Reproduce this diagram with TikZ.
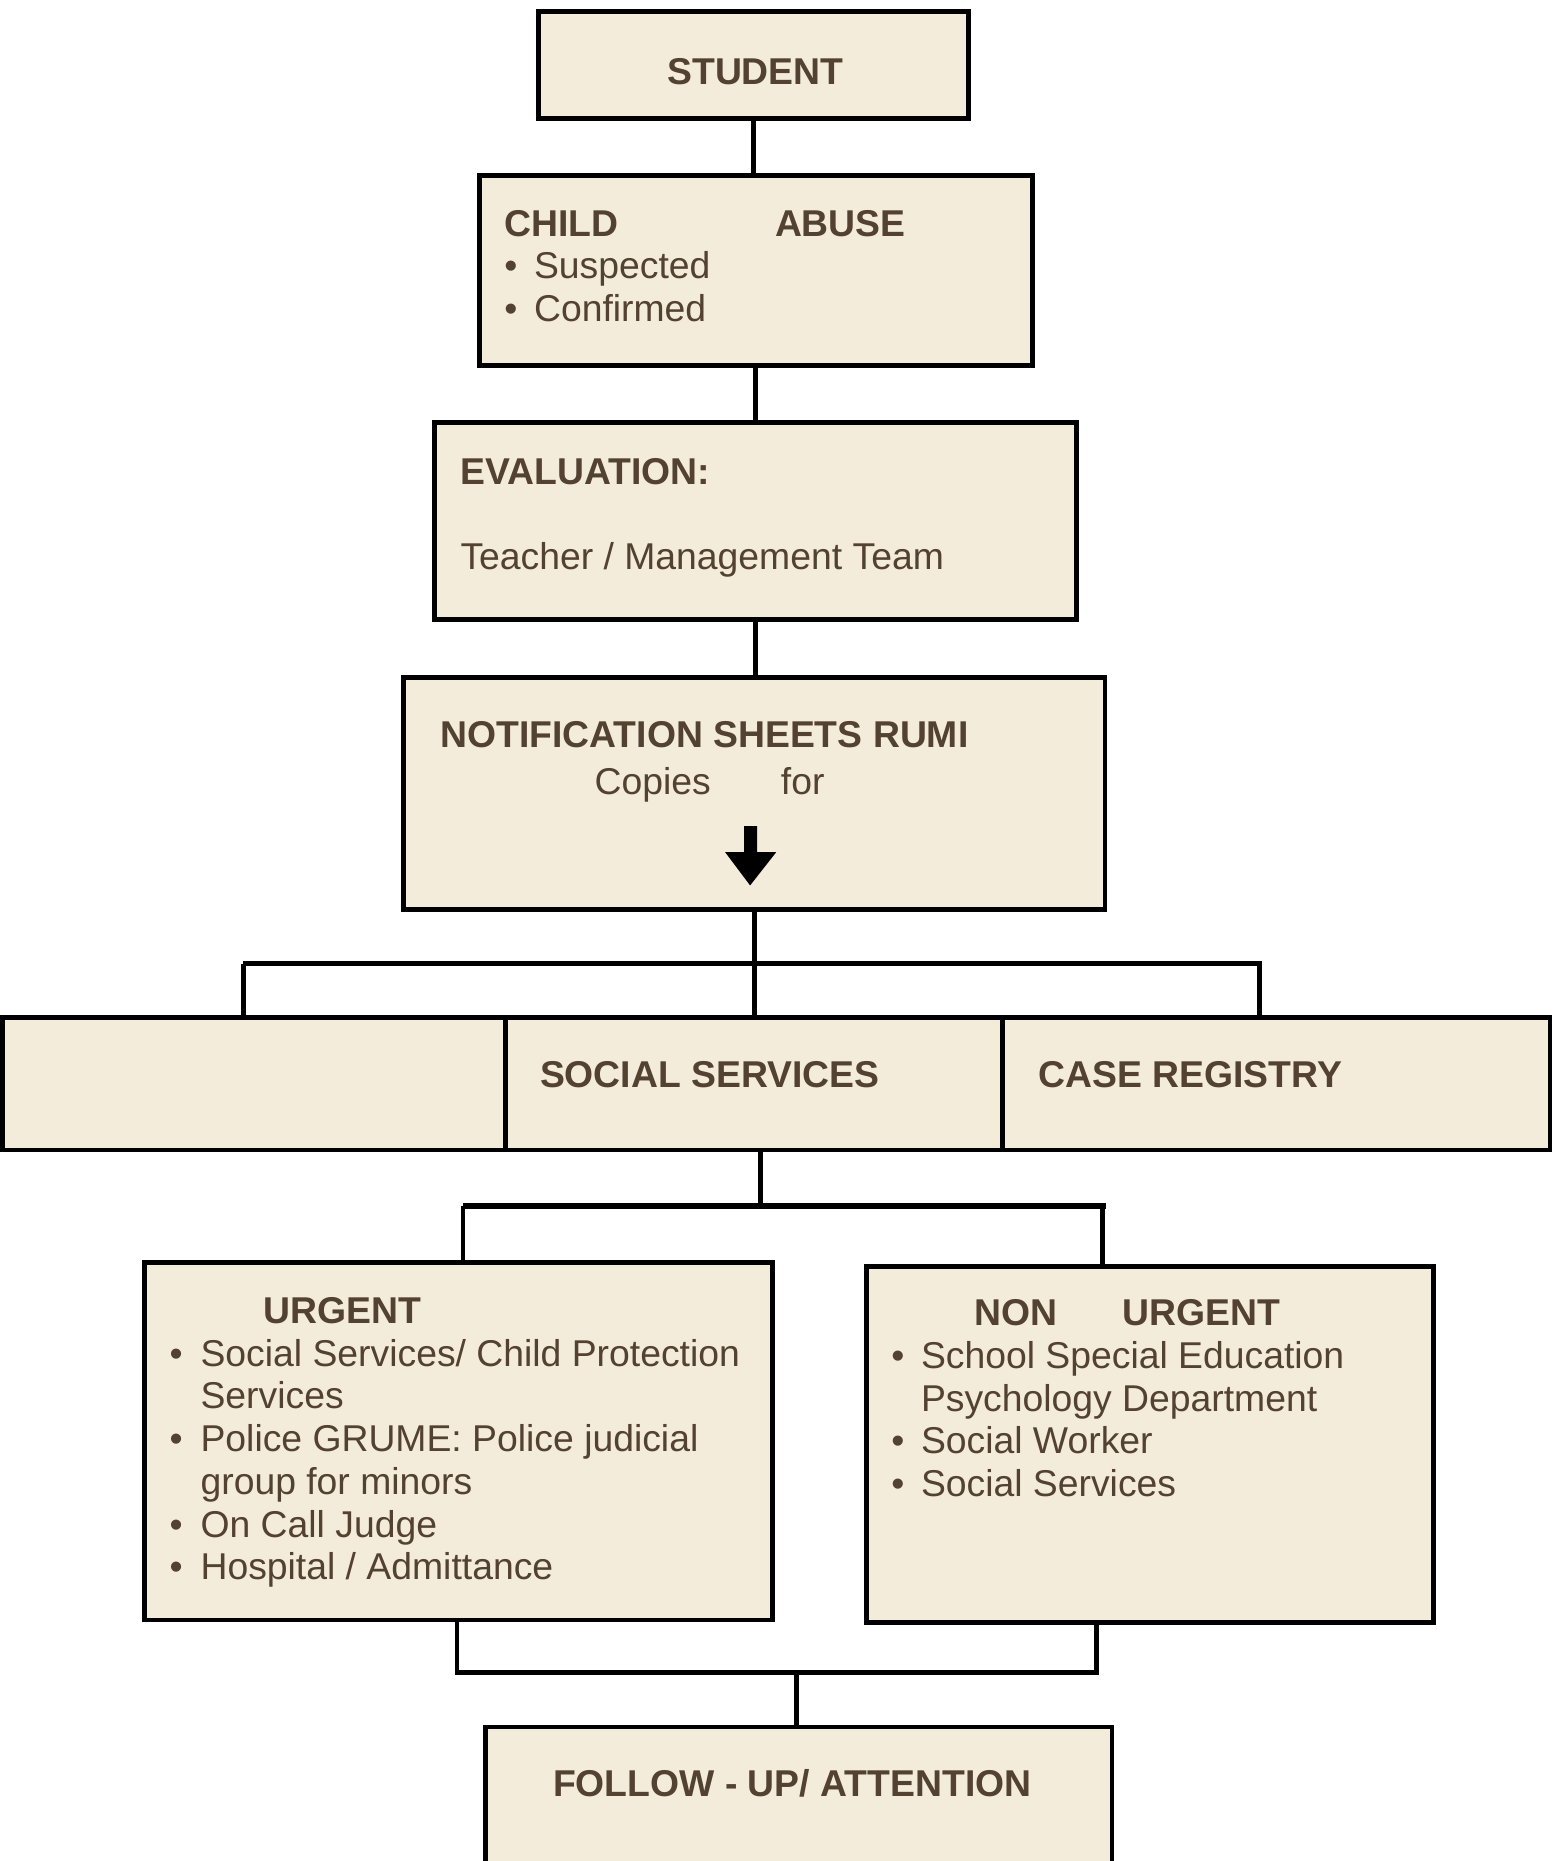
\documentclass[tikz,border=0pt]{standalone}
\usepackage{fontspec}
\setmainfont{Liberation Sans}
\definecolor{fillc}{HTML}{F3ECDA}
\definecolor{txtc}{HTML}{534132}
\tikzset{
  box/.style={draw=black, fill=fillc, line width=2.3pt, inner sep=0pt, outer sep=0pt},
  conn/.style={draw=black, line width=2.2pt},
  barline/.style={draw=black, line width=2.6pt},
  txt/.style={text=txtc, inner sep=0pt, outer sep=0pt, anchor=base west, font=\fontsize{17.9}{21}\selectfont},
  btxt/.style={txt, font=\fontsize{17.9}{21}\selectfont\bfseries},
}
\begin{document}
\begin{tikzpicture}[x=0.02cm, y=-0.02cm]
\useasboundingbox (0,0) rectangle (1308,1568);
% boxes
\node[box, minimum width=7.24cm, minimum height=1.8cm] (student) at (635,55) {};
\node[box, minimum width=9.32cm, minimum height=3.2cm] (child) at (637,228) {};
\node[box, minimum width=10.82cm, minimum height=3.32cm] (eval) at (636.5,439) {};
\node[box, minimum width=11.82cm, minimum height=3.9cm] (notif) at (635.5,668.5) {};
\node[box, minimum width=8.48cm, minimum height=2.24cm] (boxa) at (214,913) {};
\node[box, minimum width=8.38cm, minimum height=2.24cm] (boxb) at (635.5,913) {};
\node[box, minimum width=9.22cm, minimum height=2.24cm] (boxc) at (1075.5,913) {};
\node[box, minimum width=10.58cm, minimum height=6.02cm] (urg) at (386.5,1214.5) {};
\node[box, minimum width=9.56cm, minimum height=6.0cm] (nurg) at (969,1217) {};
\node[box, minimum width=10.56cm, minimum height=2.9cm] (follow) at (673,1527.5) {};
% connectors
\draw[conn] (student.south) -- (student.south |- child.north);
\draw[conn] (eval.north) -- (eval.north |- child.south);
\draw[conn] (eval.south) -- (eval.south |- notif.north);
\coordinate (bl) at (205,812);
\coordinate (br) at (1063,812);
\coordinate (bm) at (1061,812);
\draw[conn] (notif.south) -- (boxb.north);
\draw[barline] (bl) -- (br);
\draw[conn] (bl) -- (bl |- boxa.north);
\draw[conn] (bm) -- (bm |- boxc.north);
\coordinate (c1) at (641,1016);
\coordinate (cl) at (390,1016);
\coordinate (cr) at (932,1016);
\coordinate (crd) at (929,1016);
\draw[conn] (c1 |- boxb.south) -- (c1);
\draw[barline] (cl) -- (cr);
\draw[conn] (cl) -- (cl |- urg.north);
\draw[conn] (crd) -- (crd |- nurg.north);
\coordinate (dl) at (385,1409);
\coordinate (dr) at (925,1409);
\coordinate (drd) at (924,1411);
\coordinate (dm) at (671,1409);
\draw[conn] (dl |- urg.south) -- (dl) -- (dr);
\draw[conn] (drd |- nurg.south) -- (drd);
\draw[conn] (dm) -- (dm |- follow.north);
% block arrow
\fill[black] (627,696) -- (638,696) -- (638,718) -- (654,718) -- (632,746) -- (611,718) -- (627,718) -- cycle;
% texts
\node[btxt, anchor=base] (tstudent) at (636.5,71) {STUDENT};
\node[btxt] (tchild) at (425,199) {CHILD};
\node[btxt] (tabuse) at (653,199) {ABUSE};
\node[txt] (tb1) at (425,235) {•};
\node[txt] (ts1) at (450,235) {Suspected};
\node[txt] (tb2) at (425,271) {•};
\node[txt] (ts2) at (450,271) {Confirmed};
\node[btxt] (teval) at (388,408) {EVALUATION:};
\node[txt] (tteach) at (388,480) {Teacher / Management Team};
\node[btxt] (tnotif) at (371,630) {NOTIFICATION SHEETS RUMI};
\node[txt] (tcopies) at (501,669) {Copies};
\node[txt] (tfor) at (658,669) {for};
\node[btxt] (tsoc) at (455,916) {SOCIAL SERVICES};
\node[btxt] (tcase) at (875,916) {CASE REGISTRY};
\node[btxt] (turg) at (222,1115) {URGENT};
\node[txt] (ub1) at (143,1151) {•};
\node[txt] (ul1) at (169,1151) {Social Services/ Child Protection};
\node[txt] (ul2) at (169,1187) {Services};
\node[txt] (ub2) at (143,1223) {•};
\node[txt] (ul3) at (169,1223) {Police GRUME: Police judicial};
\node[txt] (ul4) at (169,1259) {group for minors};
\node[txt] (ub3) at (143,1295) {•};
\node[txt] (ul5) at (169,1295) {On Call Judge};
\node[txt] (ub4) at (143,1331) {•};
\node[txt] (ul6) at (169,1331) {Hospital / Admittance};
\node[btxt] (tnon) at (821,1117) {NON};
\node[btxt] (tnurg) at (946,1117) {URGENT};
\node[txt] (nb1) at (751,1153) {•};
\node[txt] (nl1) at (776,1153) {School Special Education};
\node[txt] (nl2) at (776,1189) {Psychology Department};
\node[txt] (nb2) at (751,1225) {•};
\node[txt] (nl3) at (776,1225) {Social Worker};
\node[txt] (nb3) at (751,1261) {•};
\node[txt] (nl4) at (776,1261) {Social Services};
\node[btxt] (tfollow) at (466,1514) {FOLLOW - UP/ ATTENTION};
\end{tikzpicture}
\end{document}
